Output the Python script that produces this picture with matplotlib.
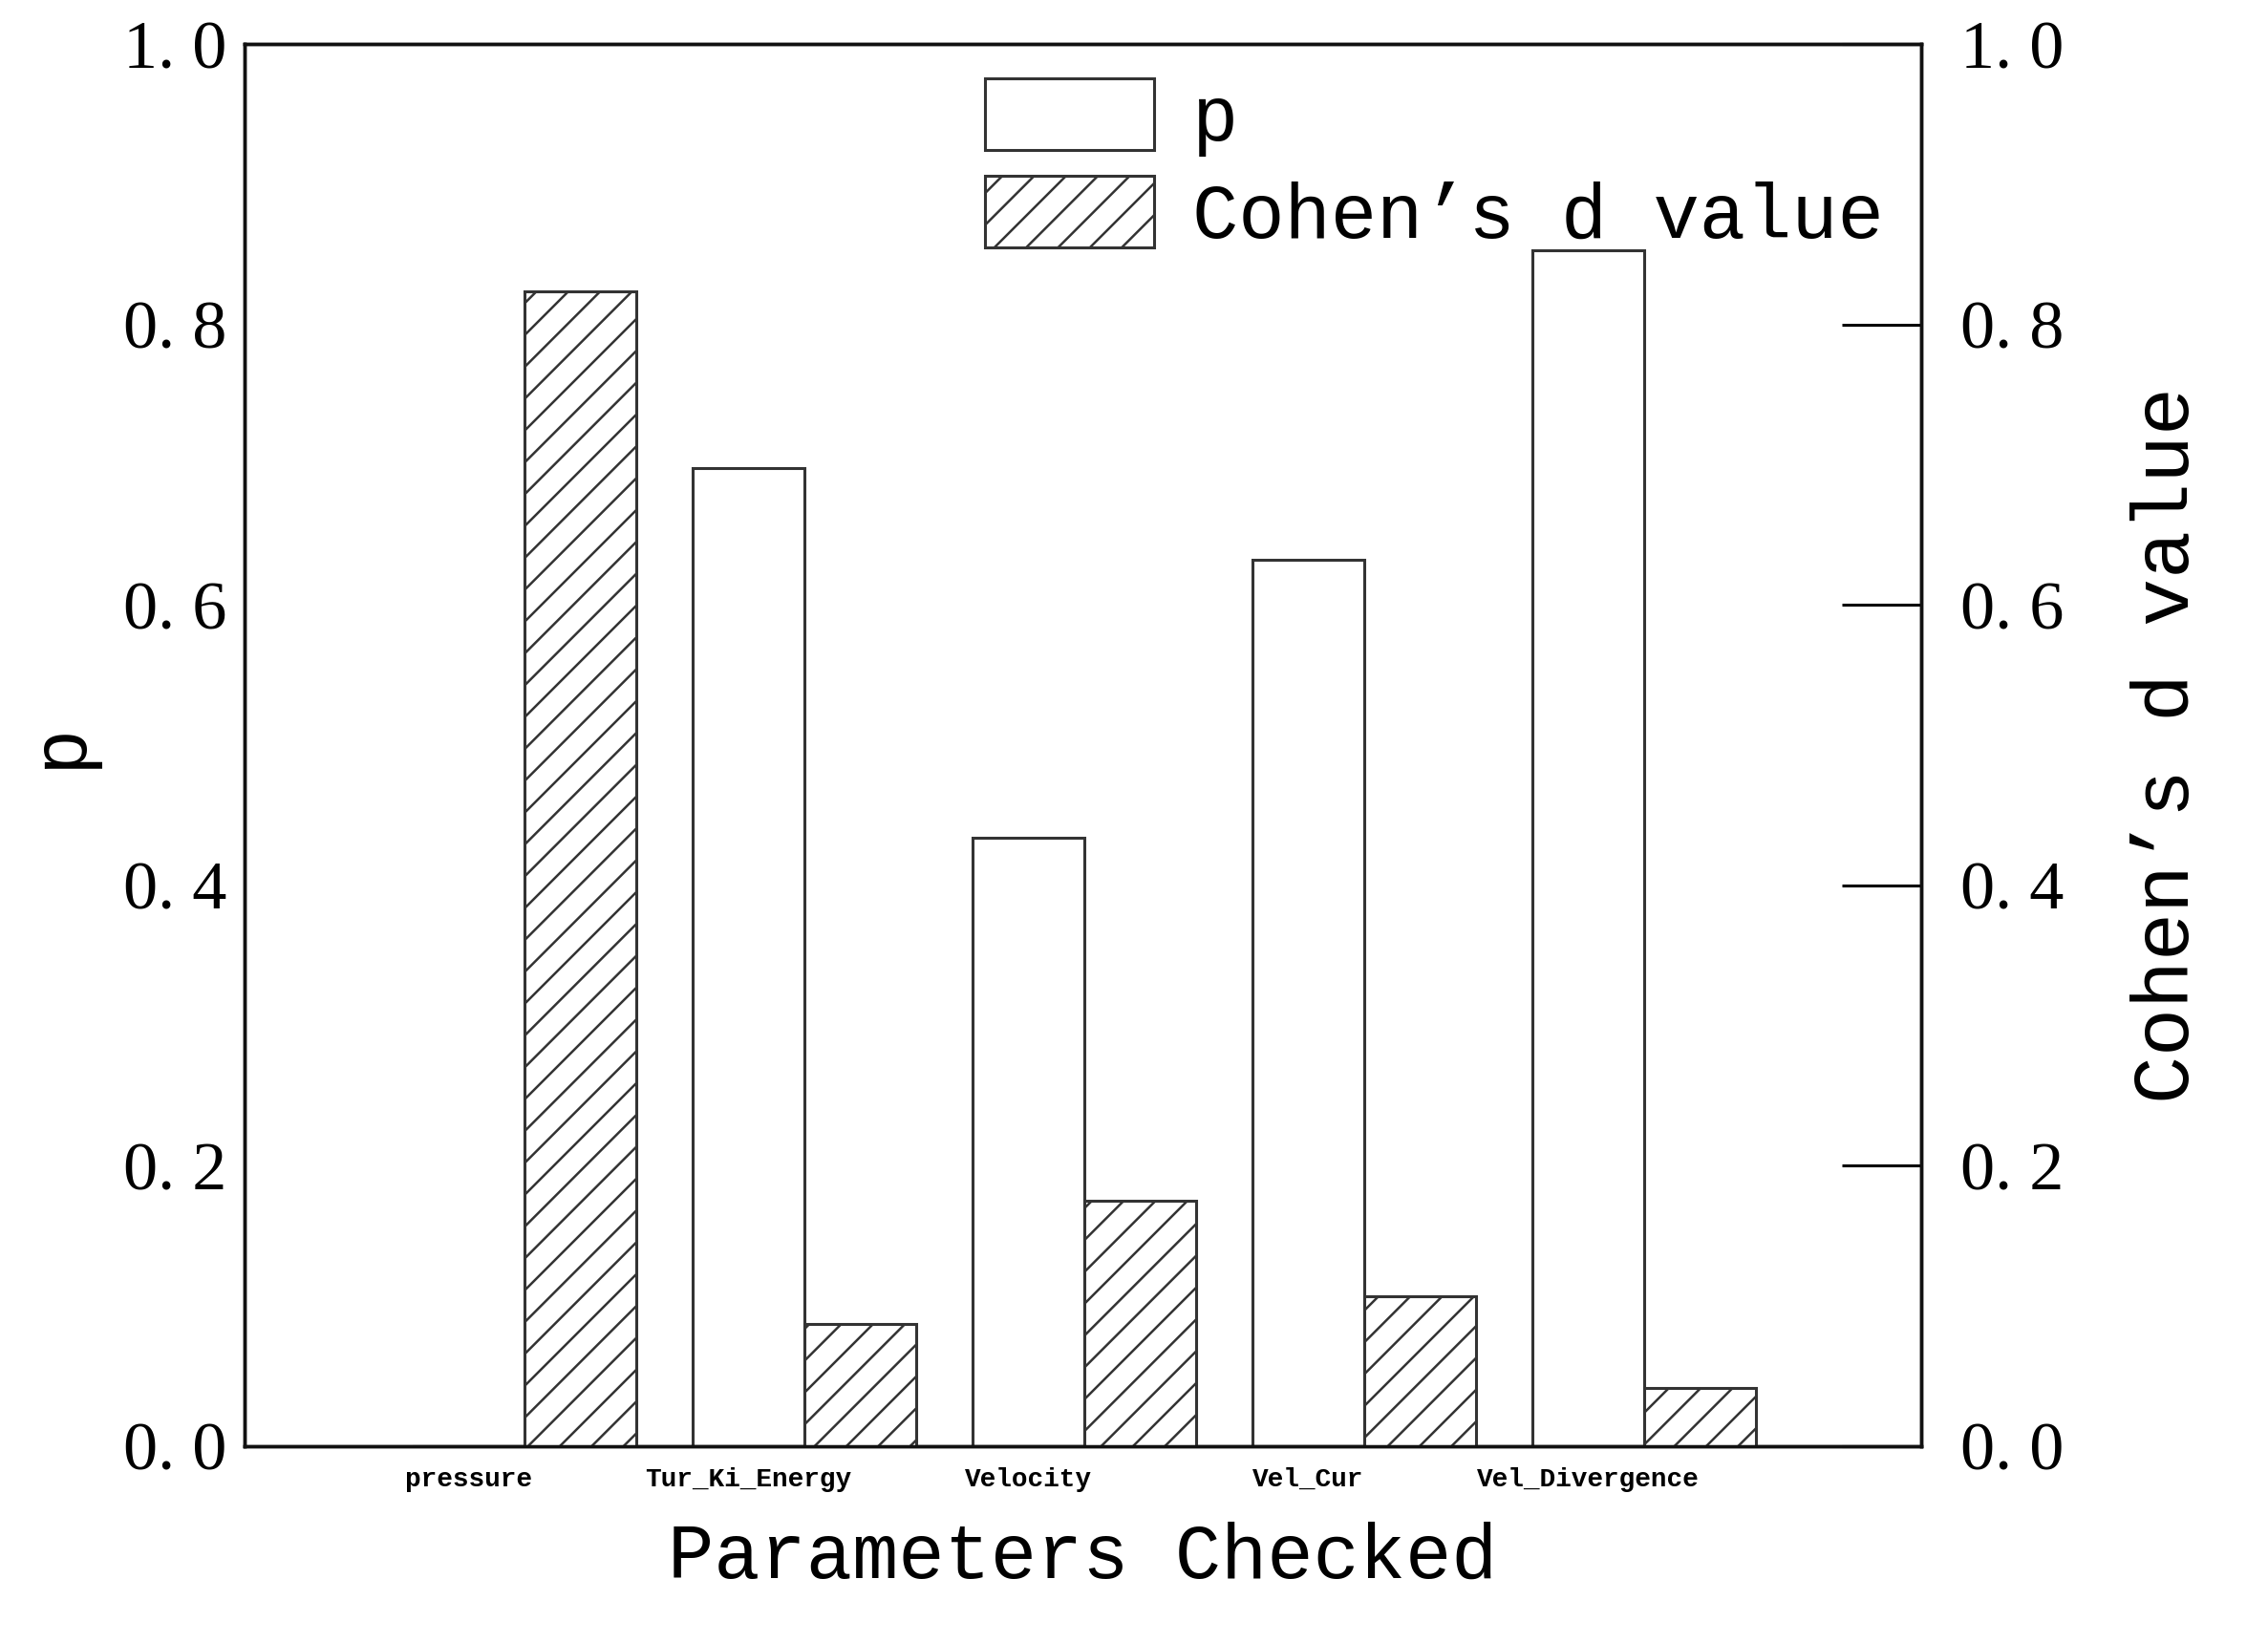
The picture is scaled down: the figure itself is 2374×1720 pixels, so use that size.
import matplotlib
matplotlib.use("Agg")
import matplotlib.pyplot as plt
import numpy as np

categories = ["pressure", "Tur_Ki_Energy", "Velocity", "Vel_Cur", "Vel_Divergence"]
p_values = [0.0, 0.698, 0.434, 0.632, 0.853]
d_values = [0.824, 0.087, 0.175, 0.107, 0.041]
yticks = [0.0, 0.2, 0.4, 0.6, 0.8, 1.0]
ytick_labels = ["0. 0", "0. 2", "0. 4", "0. 6", "0. 8", "1. 0"]

plt.rcParams['hatch.linewidth'] = 1.8
ec = "#333333"
fig = plt.figure(figsize=(23.74, 17.2), dpi=100)
ax = fig.add_axes([0.108, 0.120, 0.739, 0.853])
ax2 = ax.twinx()
x = np.arange(len(categories))
w = 0.4
ax.bar(x, p_values, w, facecolor="white", edgecolor=ec, linewidth=2.2, label="p")
ax2.bar(x + w, d_values, w, facecolor="white", edgecolor=ec, linewidth=2.2, hatch="/", label="Cohen’s d value")
for a in (ax, ax2):
    a.set_ylim(0, 1.0)
    a.set_yticks(yticks)
    a.set_yticklabels(ytick_labels, fontfamily="Liberation Serif", fontsize=52)
ax.set_xlim(-0.8, 5.19)
ax.set_xticks(x)
ax.set_xticklabels(categories, fontfamily="Liberation Mono", fontweight="bold", fontsize=20)
ax.tick_params(axis="x", length=0, pad=16)
ax.tick_params(axis="y", direction="in", length=0, pad=14)
ax2.tick_params(axis="y", direction="in", length=60, width=2.2, pad=30)
for a in (ax, ax2):
    for s in a.spines.values():
        s.set_linewidth(2.5)
        s.set_color("#111111")
ax.set_xlabel("Parameters Checked", fontfamily="Liberation Mono", fontsize=58, labelpad=22)
ax.set_ylabel("p", fontfamily="Liberation Mono", fontsize=58, labelpad=20)
ax2.set_ylabel("Cohen’s d value", fontfamily="Liberation Mono", fontsize=60, labelpad=50)
h1, l1 = ax.get_legend_handles_labels()
h2, l2 = ax2.get_legend_handles_labels()
ax2.legend(h1 + h2, l1 + l2, loc="upper left", bbox_to_anchor=(0.4, 1.025), frameon=False,
           prop={"family": "Liberation Mono", "size": 58}, handlelength=2.2, handleheight=1.05,
           labelspacing=0.25, handletextpad=0.5)
fig.savefig("out.png", dpi=100)
